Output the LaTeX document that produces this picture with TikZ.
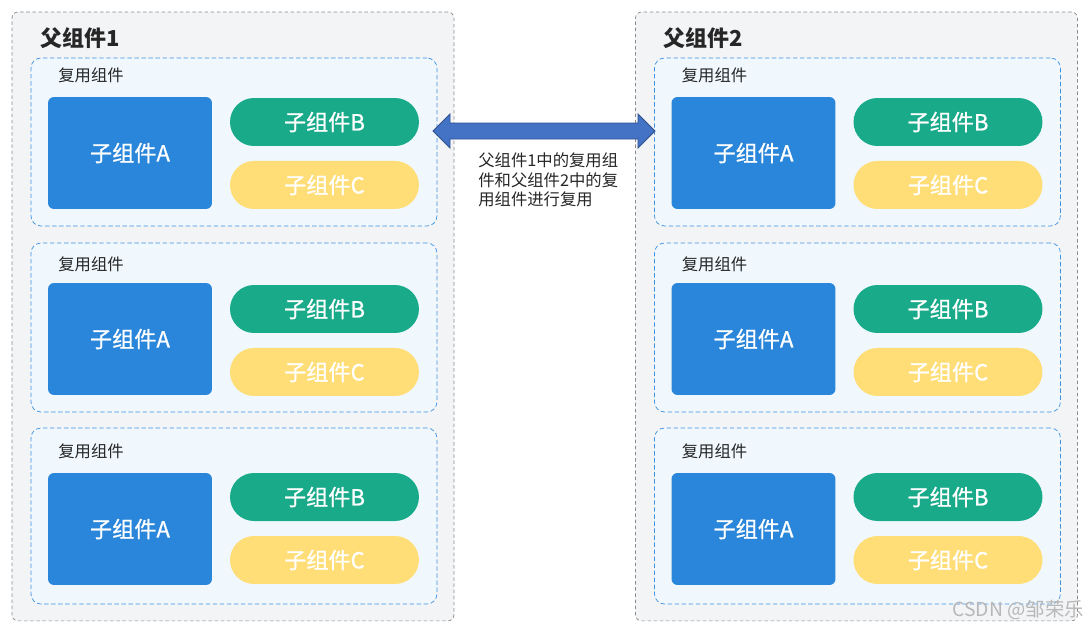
\documentclass[tikz,border=0pt]{standalone}
\usepackage{fontspec}
\setmainfont{Noto Sans CJK SC}
\newfontfamily\medfont{Noto Sans CJK SC}[FakeBold=0.9]
\usetikzlibrary{positioning, calc}
\definecolor{panelfill}{HTML}{F3F4F6}
\definecolor{panelline}{HTML}{8A8A8A}
\definecolor{groupfill}{HTML}{F0F8FE}
\definecolor{groupline}{HTML}{3D91E3}
\definecolor{sub_a_col}{HTML}{2986DA}
\definecolor{sub_b_col}{HTML}{19AA8A}
\definecolor{sub_c_col}{HTML}{FFDE78}
\definecolor{arrowfill}{HTML}{4472C4}
\definecolor{arrowline}{HTML}{2F528F}
\tikzset{
    panel/.style = {draw=panelline, dash pattern=on 2pt off 1.5pt, fill=panelfill,
        rounded corners=0.12cm, anchor=north west, inner sep=0pt, outer sep=0pt,
        minimum width=8.84cm, minimum height=12.18cm},
    group/.style = {draw=groupline, dash pattern=on 2.5pt off 1.5pt, fill=groupfill,
        rounded corners=0.2cm, anchor=north west, inner sep=0pt, outer sep=0pt,
        minimum width=8.12cm},
    subnode/.style = {inner sep=0pt, outer sep=0pt, text=white,
        font=\medfont\fontsize{12.6}{15}\selectfont},
    sub_a/.style = {subnode, fill=sub_a_col, rounded corners=0.12cm,
        minimum width=3.28cm, minimum height=2.24cm, anchor=north west},
    pill/.style = {subnode, rounded corners=0.48cm,
        minimum width=3.78cm, minimum height=0.96cm},
    sub_b/.style = {pill, fill=sub_b_col, anchor=north west},
    sub_c/.style = {pill, fill=sub_c_col},
    title_txt/.style = {anchor=west, inner sep=0pt, text=black!85,
        font=\fontsize{12.5}{15}\selectfont\bfseries},
    label_txt/.style = {anchor=west, inner sep=0pt, text=black!85,
        font=\fontsize{9.3}{11}\selectfont},
    note_txt/.style = {anchor=north west, inner sep=0pt, align=left, text=black!85,
        font=\fontsize{9.3}{11.3}\selectfont},
    blockarrow/.style = {draw=arrowline, fill=arrowfill, line width=0.5pt, line join=miter},
}

\begin{document}
\begin{tikzpicture}[x=0.02cm, y=-0.02cm]
    \useasboundingbox (0,0) rectangle (1087,629);
    \foreach \p/\px in {1/0, 2/623.5} {
        \node [panel] (P\p) at (12+\px,12) {};
        \node [title_txt] (T\p) at (40+\px,38) {父组件\p};
        \foreach \g/\gy/\gh/\ly/\ay/\by in {1/58/168/75/97/98, 2/243/169/264/283/285, 3/428/176/451/473/473} {
            \node [group, minimum height=\gh*0.02cm] (G\p-\g) at (31+\px,\gy) {};
            \node [label_txt] (L\p-\g) at (58+\px,\ly) {复用组件};
            \node [sub_a] (A\p-\g) at (48+\px,\ay) {子组件A};
            \node [sub_b] (B\p-\g) at (230+\px,\by) {子组件B};
            \node [sub_c, below=0.3cm of B\p-\g] (C\p-\g) {子组件C};
        }
    }
    % double block arrow between the two reused groups
    \coordinate (al) at (433,131);
    \coordinate (ar) at (655,131);
    \draw [blockarrow] (al) -- ($(al)+(17,-17)$) -- ($(al)+(17,-8)$) -- ($(ar)+(-17,-8)$)
        -- ($(ar)+(-17,-17)$) -- (ar) -- ($(ar)+(-17,17)$) -- ($(ar)+(-17,8)$)
        -- ($(al)+(17,8)$) -- ($(al)+(17,17)$) -- cycle;
    \node [note_txt] (note) at (478,152) {父组件1中的复用组\\件和父组件2中的复\\用组件进行复用};
    \node [anchor=east, inner sep=0pt, text=black!28, font=\fontsize{11}{13}\selectfont]
        (mark) at (1084,610) {CSDN @邹荣乐};
\end{tikzpicture}
\end{document}
